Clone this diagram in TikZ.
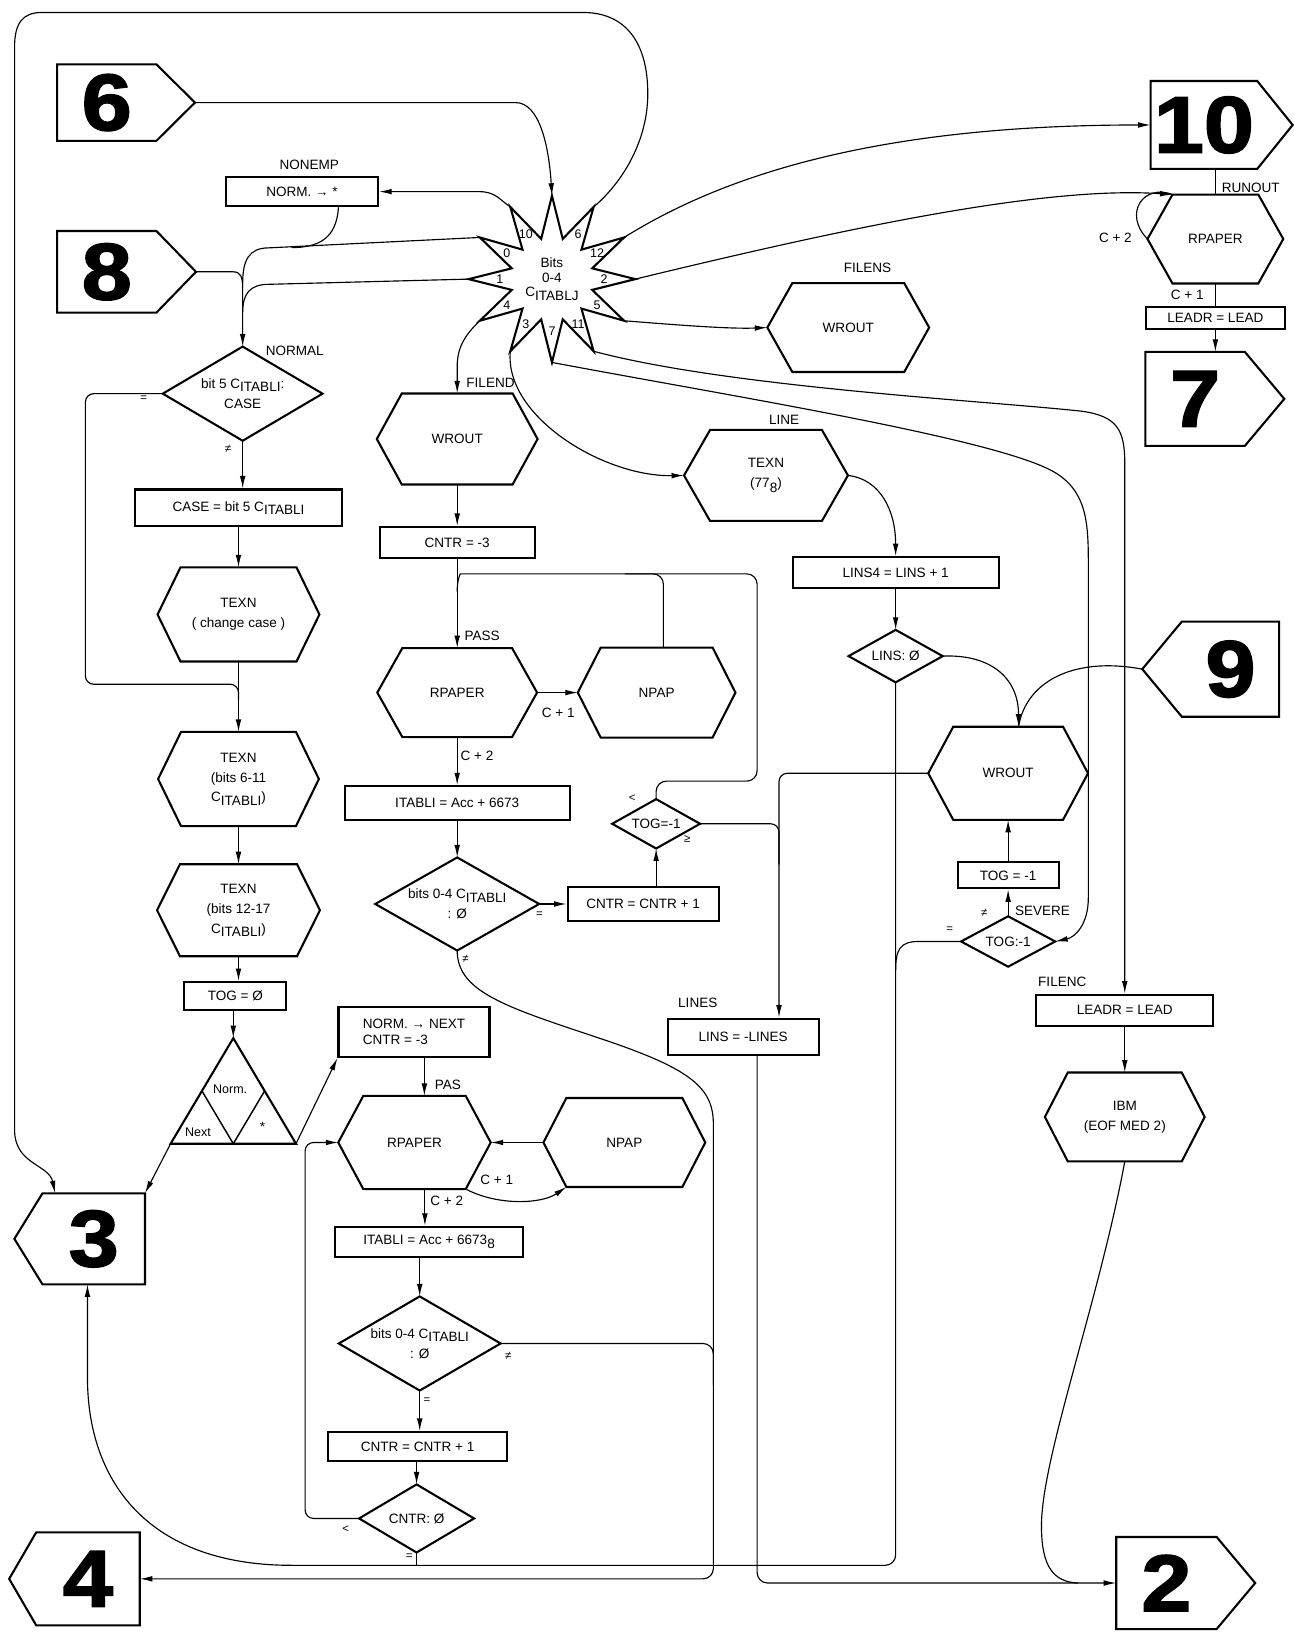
\documentclass[tikz,border=0pt]{standalone}
\usepackage{fontspec}
\setmainfont{Liberation Sans}
\newfontfamily\numfont[FakeBold=2]{Liberation Sans Bold}
\usetikzlibrary{arrows.meta,calc}

\newcommand\lblfont{\fontsize{13}{19}\selectfont}
\newcommand\smallfont{\fontsize{11}{13}\selectfont}
\newcommand\Cs[1]{C\raisebox{-0.45ex}{#1}}
\newcommand\bignum[1]{\scalebox{1.12}[1]{#1}}
% outlines drawn around invisible rectangular nodes
\newcommand\drawhex[2]{\draw[outline] (#1.west) -- ([xshift=#2]#1.north west) -- ([xshift=-#2]#1.north east) -- (#1.east) -- ([xshift=-#2]#1.south east) -- ([xshift=#2]#1.south west) -- cycle;}
\newcommand\drawdia[1]{\draw[outline] (#1.north) -- (#1.east) -- (#1.south) -- (#1.west) -- cycle;}
\newcommand\drawconE[2]{\coordinate (#1-tip) at ([xshift=#2]#1.east);
  \draw[outline] (#1.north west) -- (#1.north east) -- (#1-tip) -- (#1.south east) -- (#1.south west) -- cycle;}
\newcommand\drawconW[2]{\coordinate (#1-tip) at ([xshift=-#2]#1.west);
  \draw[outline] (#1.north east) -- (#1.north west) -- (#1-tip) -- (#1.south west) -- (#1.south east) -- cycle;}

\begin{document}
\begin{tikzpicture}[x=1pt,y=-1pt,
  every node/.style={font=\lblfont},
  outline/.style={line width=2pt, line join=miter},
  conn/.style={line width=1.1pt},
  arr/.style={conn, -{Latex[length=12pt,width=5.5pt]}},
  rbox/.style 2 args={draw, line width=2pt, inner sep=0pt, minimum width=#1pt, minimum height=#2pt, align=center},
  sbox/.style 2 args={inner sep=0pt, minimum width=#1pt, minimum height=#2pt, align=center},
  lab/.style={inner sep=0pt},
  sym/.style={inner sep=0pt, font=\smallfont},
  num/.style 2 args={sbox={#1}{#2}, font=\numfont\fontsize{77}{77}\selectfont}
]
\fill[white] (0,0) rectangle (1242,1568);
\useasboundingbox (0,0) rectangle (1242,1568);

% ---------- off-page connectors ----------
\node[num={95}{73}] (c6) at (102.5,98.5) {\bignum{6}}; \drawconE{c6}{37pt}
\node[num={95}{78}] (c8) at (102.5,261) {\bignum{8}}; \drawconE{c8}{38pt}
\node[num={102}{84}] (c10) at (1156,120) {\bignum{10}}; \drawconE{c10}{34pt}
\node[num={95}{90}] (c7) at (1147.5,383) {\bignum{7}}; \drawconE{c7}{38pt}
\node[num={93}{91}] (c9) at (1181.5,642.5) {\bignum{9}}; \drawconW{c9}{38pt}
\node[num={98}{87}] (c3) at (90,1189.5) {\bignum{3}}; \drawconW{c3}{27pt}
\node[num={99}{89}] (c4) at (84.5,1516) {\bignum{4}}; \drawconW{c4}{26pt}
\node[num={96}{88}] (c2) at (1120,1520) {\bignum{2}}; \drawconE{c2}{37pt}

% ---------- twelve-way branch star ----------
\node[inner sep=0pt, align=center, font=\fontsize{13}{14}\selectfont] (star) at (530,268) {Bits\\0-4\\\Cs{ITABLJ}};
\draw[outline] ($(star)+(-90:80)$) -- ($(star)+(-75:40)$)
  \foreach \a in {30,60,...,330} { -- ($(star)+(-90+\a:80)$) -- ($(star)+(-75+\a:40)$) } -- cycle;
\foreach \sn/\sa in {sTop/-90, s6/-60, s12/-30, s2/0, s5/30, s11/60, s7/90, s3/120, s4/150, s1/180, s0/210, s10/240}
  { \coordinate (\sn) at ($(star)+(\sa:80)$); }
\foreach \sn/\sa in {10/240, 6/300, 12/330, 2/0, 5/30, 11/60, 7/90, 3/120, 4/150, 1/180, 0/210}
  { \node[inner sep=0pt, font=\fontsize{12}{12}\selectfont] (sl\sn) at ($(star)+(\sa:50)$) {\sn}; }

% ---------- hexagonal subroutine boxes ----------
\node[sbox={155}{85}] (wroutS) at (814.5,314.5) {WROUT}; \drawhex{wroutS}{24pt}
\node[sbox={154}{87}] (wroutE) at (439,421.5) {WROUT}; \drawhex{wroutE}{24pt}
\node[sbox={157}{87}] (texnL) at (735.5,456.5) {TEXN\\(77\raisebox{-0.6ex}{8})}; \drawhex{texnL}{25pt}
\node[sbox={155}{90}] (texnCase) at (229,590) {TEXN\\( change case )}; \drawhex{texnCase}{22pt}
\node[sbox={153}{85}] (rpaperP) at (439,665) {RPAPER}; \drawhex{rpaperP}{24pt}
\node[sbox={151}{86}] (npapP) at (630.5,665) {NPAP}; \drawhex{npapP}{22pt}
\node[sbox={154}{90}] (texn611) at (229,748) {TEXN\\(bits 6-11\\\Cs{ITABLI})}; \drawhex{texn611}{22pt}
\node[sbox={156}{88}] (texn1217) at (229,874) {TEXN\\(bits 12-17\\\Cs{ITABLI})}; \drawhex{texn1217}{22pt}
\node[sbox={153}{89}] (wroutR) at (968,742.5) {WROUT}; \drawhex{wroutR}{24pt}
\node[sbox={130}{85}] (rpaperR) at (1167,229.5) {RPAPER}; \drawhex{rpaperR}{24pt}
\node[sbox={146}{89}] (rpaperN) at (398,1097) {RPAPER}; \drawhex{rpaperN}{24pt}
\node[sbox={155}{85}] (npapN) at (599.5,1097) {NPAP}; \drawhex{npapN}{22pt}
\node[sbox={153}{85}] (ibm) at (1080,1072.5) {IBM\\(EOF MED 2)}; \drawhex{ibm}{22pt}

% ---------- process boxes ----------
\node[rbox={146}{28}] (nonemp) at (290,184) {NORM. → *};
\node[rbox={198}{35}] (casebox) at (229,487.5) {CASE = bit 5 \Cs{ITABLI}};
\node[rbox={149}{30}] (cntr3) at (439,521) {CNTR = -3};
\node[rbox={216}{32}] (itabliP) at (439,771) {ITABLI = Acc + 6673};
\node[rbox={145}{33}] (cntrinc1) at (617.5,868) {CNTR = CNTR + 1};
\node[rbox={198}{30}] (lins4) at (860,550) {LINS4 = LINS + 1};
\node[rbox={97}{25}] (togm1) at (968,840.5) {TOG = -1};
\node[rbox={98}{27}] (togz) at (226,956.5) {TOG = Ø};
\node[rbox={145}{48}, align=left, font=\fontsize{13}{15}\selectfont] (normnext) at (397.5,991) {NORM. → NEXT\\CNTR = -3};
\node[rbox={180}{29}] (itabliN) at (412,1192.5) {ITABLI = Acc + 6673\raisebox{-0.6ex}{8}};
\node[rbox={172}{28}] (cntrinc2) at (401,1389) {CNTR = CNTR + 1};
\node[rbox={145}{35}] (lines) at (713.5,995.5) {LINS = -LINES};
\node[rbox={170}{30}] (leadrF) at (1080,970) {LEADR = LEAD};
\node[rbox={134}{21}] (leadrR) at (1167,305) {LEADR = LEAD};

% ---------- decisions ----------
\node[sbox={153}{90}] (normalD) at (233,378) {bit 5 \Cs{ITABLI}:\\CASE}; \drawdia{normalD}
\node[sbox={157}{89}] (bitsP) at (439,868) {bits 0-4 \Cs{ITABLI}\\: Ø}; \drawdia{bitsP}
\node[sbox={84}{47}] (togD) at (630,791) {TOG=-1}; \drawdia{togD}
\node[sbox={90}{50}] (linsD) at (860,630) {LINS: Ø}; \drawdia{linsD}
\node[sbox={90}{48}] (togS) at (968,904) {TOG:-1}; \drawdia{togS}
\node[sbox={155}{90}] (bitsN) at (403,1290) {bits 0-4 \Cs{ITABLI}\\: Ø}; \drawdia{bitsN}
\node[sbox={110}{65}] (cntrD) at (400,1458) {CNTR: Ø}; \drawdia{cntrD}

% three-way switch triangle
\node[sbox={120}{101}] (tri) at (224,1047.5) {};
\draw[outline] (tri.south west) -- (tri.north) -- (tri.south east) -- cycle;
\draw[line width=1.4pt] ($(tri.south west)!0.5!(tri.north)$) -- (tri.south) -- ($(tri.south east)!0.5!(tri.north)$);
\node[lab, font=\fontsize{12}{12}\selectfont] (tNorm) at (221,1046) {Norm.};
\node[lab, font=\fontsize{12}{12}\selectfont] (tNext) at (190,1087) {Next};
\node[lab] (tStar) at (252,1082) {*};

% ---------- entry labels and branch marks ----------
\node[lab] (tNonemp) at (297,158) {NONEMP};
\node[lab] (tNormal) at (283,337) {NORMAL};
\node[lab] (tFilens) at (833,257) {FILENS};
\node[lab] (tFilend) at (471,368) {FILEND};
\node[lab] (tLine) at (753,403) {LINE};
\node[lab] (tPass) at (463,611) {PASS};
\node[lab] (tC1a) at (536,684) {C + 1};
\node[lab] (tC2a) at (458,726) {C + 2};
\node[sym] (eqA) at (518,878) {=};
\node[sym] (neA) at (447,921) {≠};
\node[sym] (ltA) at (607,766) {<};
\node[sym] (geA) at (660,806) {≥};
\node[sym] (eqB) at (138,383) {=};
\node[sym] (neB) at (219,431) {≠};
\node[lab] (tLines) at (670,963) {LINES};
\node[lab] (tSevere) at (1001,875) {SEVERE};
\node[sym] (neC) at (945,877) {≠};
\node[sym] (eqC) at (912,893) {=};
\node[lab] (tFilenc) at (1020,943) {FILENC};
\node[lab] (tRunout) at (1201,180) {RUNOUT};
\node[lab] (tC2b) at (1071,228) {C + 2};
\node[lab] (tC1b) at (1140,283) {C + 1};
\node[lab] (tPas) at (430,1042) {PAS};
\node[lab] (tC1c) at (477,1133) {C + 1};
\node[lab] (tC2c) at (429,1153) {C + 2};
\node[sym] (neD) at (488,1302) {≠};
\node[sym] (eqD) at (410,1345) {=};
\node[sym] (ltB) at (332,1468) {<};
\node[sym] (eqE) at (393,1495) {=};

% ---------- helper points on node outlines ----------
\coordinate (rpRcorner) at ([xshift=24pt]rpaperR.north west);
\coordinate (wRtop) at ([xshift=10pt]wroutR.north);
\coordinate (lnIn) at ([xshift=34.5pt]lines.north);
\coordinate (lnOut) at ([xshift=13.5pt]lines.south);
\coordinate (npUp) at ([xshift=6.5pt]npapP.north);
\coordinate (pasIn) at ([xshift=10pt]normnext.south);
\coordinate (c2out) at ([xshift=10pt]rpaperN.south);
\coordinate (jE) at (400,1503);

% ---------- star branches ----------
\draw[arr] (c6-tip) -- (495,98.5) .. controls (518,98.5) and (527,140) .. (sTop);
\draw[arr] (s6) .. controls (598,175) and (622,135) .. (622,90) .. controls (622,40) and (600,12) .. (560,12) -- (40,12) .. controls (22,12) and (14,22) .. (14,45) -- (14,1085) .. controls (14,1118) and (47,1118) .. ([xshift=-37pt]c3.north);
\draw[arr] (s10) .. controls (480,192) and (476,184) .. (460,184) -- (nonemp.east);
\draw[arr] (s0) -- (258,238) .. controls (239,238) and (233,250) .. (233,272) -- (normalD.north);
\draw[conn] ([xshift=35pt]nonemp.south) .. controls (323,230) and (305,237.5) .. (280,237.8);
\draw[conn] (c8-tip) -- (224,261) .. controls (231,261) and (233,266) .. (233,276);
\draw[conn] (s1) -- (258,273) .. controls (240,273) and (233,282) .. (233,300);
\draw[arr] (s4) .. controls (446,322) and (439,334) .. (439,352) -- (wroutE.north);
\draw[arr] (s3) .. controls (484,400) and (580,458) .. (texnL.west);
\draw[arr] (s7) .. controls (700,380) and (950,420) .. (1010,452) .. controls (1043,470) and (1045,500) .. (1045,540) -- (1045,862) .. controls (1045,888) and (1032,900) .. (togS.east);
\draw[arr] (s11) .. controls (700,372) and (950,385) .. (1040,395) .. controls (1072,400) and (1080,412) .. (1080,445) -- (leadrF.north);
\draw[arr] (s5) .. controls (650,312) and (700,316) .. (wroutS.west);
\draw[arr] (s2) .. controls (800,222) and (1000,178) .. (rpRcorner);
\draw[arr] (s12) .. controls (700,165) and (850,120) .. (c10.west);

% ---------- RUNOUT ----------
\draw[conn] (rpaperR.north |- c10.south) -- (rpaperR.north);
\draw[conn] (rpRcorner) .. controls (1098,176) and (1078,205) .. (rpaperR.west);
\draw[conn] (rpaperR.south) -- (rpaperR.south |- leadrR.north);
\draw[arr] (leadrR.south) -- (leadrR.south |- c7.north);

% ---------- NORMAL column ----------
\draw[conn, rounded corners=8pt] (normalD.west) -- (82,378) -- (82,657) -- (229,657) -- (229,672);
\draw[arr] (normalD.south) -- (normalD.south |- casebox.north);
\draw[arr] (casebox.south) -- (texnCase.north);
\draw[arr] (texnCase.south) -- (texn611.north);
\draw[arr] (texn611.south) -- (texn1217.north);
\draw[arr] (texn1217.south) -- (texn1217.south |- togz.north);
\draw[arr] (togz.south -| tri.north) -- (tri.north);
\draw[arr] (tri.south west) -- (c3.north east);
\draw[arr] (tri.south east) -- (normnext.south west);

% ---------- PAS loop ----------
\draw[arr] (pasIn) -- (pasIn |- rpaperN.north);
\draw[arr] (npapN.west) -- (rpaperN.east);
\draw[arr] ([xshift=-24pt]rpaperN.south east) .. controls (478,1158) and (520,1156) .. ([xshift=22pt]npapN.south west);
\draw[arr] (c2out) -- (c2out |- itabliN.north);
\draw[arr] (itabliN.south -| bitsN.north) -- (bitsN.north);
\draw[arr] (bitsN.south) -- (bitsN.south |- cntrinc2.north);
\draw[arr] (cntrinc2.south -| cntrD.north) -- (cntrD.north);
\draw[arr, rounded corners=8pt] (cntrD.west) -- (293,1458) -- (293,1097) -- (rpaperN.west);
\draw[conn] (cntrD.south) -- (jE);
\draw[conn, rounded corners=10pt] (bitsN.east) -- (685,1290) -- (685,1330);
\draw[arr, rounded corners=10pt] (bitsP.south) .. controls (439,950) and (480,965) .. (570,995) .. controls (665,1027) and (685,1045) .. (685,1090) -- (685,1516) -- (c4.east);
\draw[arr, rounded corners=10pt] (linsD.south) -- (860,1503) -- (290,1503) .. controls (140,1503) and (84,1420) .. (84,1313) -- ([xshift=-6pt]c3.south);

% ---------- LINE / SEVERE column ----------
\draw[arr] (texnL.east) .. controls (845,460) and (860,490) .. (lins4.north);
\draw[arr] (lins4.south) -- (linsD.north);
\draw[arr] (linsD.east) .. controls (950,628) and (978,650) .. (wRtop);
\draw[conn] (c9-tip) .. controls (1030,630) and (985,655) .. (wRtop);
\draw[conn] (togS.west) -- (882,904) .. controls (864,904) and (860,912) .. (860,932);
\draw[arr, rounded corners=8pt] (wroutR.west) -- (748,742.5) -- (lnIn);
\draw[arr] (togm1.north) -- (wroutR.south);
\draw[arr] (togS.north) -- (togm1.south);
\draw[arr, rounded corners=10pt] (lnOut) -- (727,1520) -- (c2.west);
\draw[conn] (ibm.south) .. controls (1055,1250) and (1000,1400) .. (1000,1465) .. controls (1000,1505) and (1012,1519) .. (1035,1520);
\draw[arr] (leadrF.south) -- (leadrF.south |- ibm.north);

% ---------- FILEND / PASS column ----------
\draw[arr] (wroutE.south) -- (cntr3.north);
\draw[arr] (cntr3.south) -- (rpaperP.north);
\draw[conn, rounded corners=10pt] (togD.north) -- (630,750) -- (727,750) -- (727,551) -- (452,551) .. controls (442,551) and (439,556) .. (439,568);
\draw[conn, rounded corners=10pt] (npUp) -- (637,551) -- (600,551);
\draw[arr] (rpaperP.east) -- (npapP.west);
\draw[arr] (rpaperP.south) -- (itabliP.north);
\draw[arr] (itabliP.south) -- (bitsP.north);
\draw[arr] (bitsP.east) -- (cntrinc1.west);
\draw[arr] (cntrinc1.north -| togD.south) -- (togD.south);
\draw[conn, rounded corners=8pt] (togD.east) -- (748,791) -- (748,830);
\end{tikzpicture}
\end{document}
